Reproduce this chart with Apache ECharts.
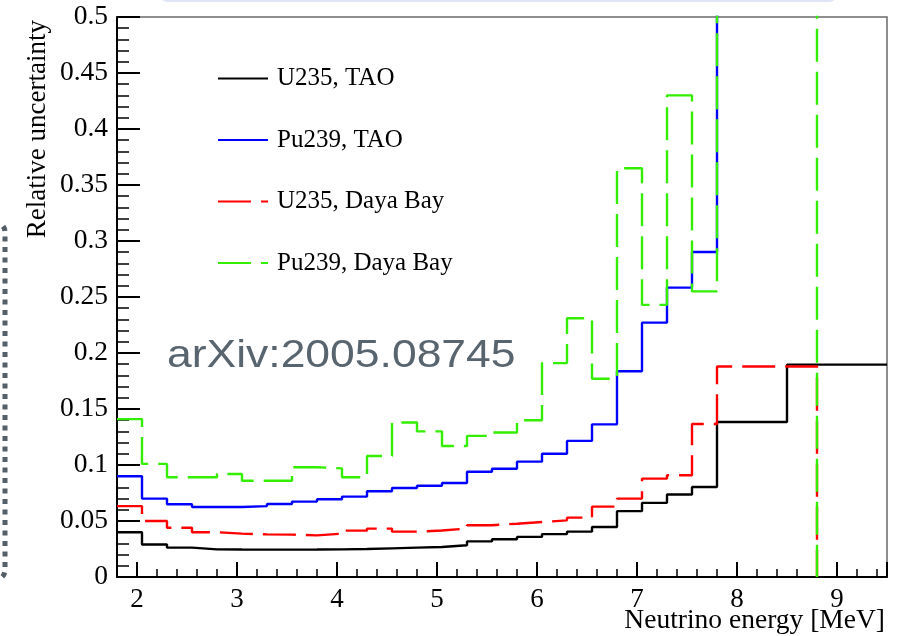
<!DOCTYPE html>
<html>
<head>
<meta charset="utf-8">
<script src="https://cdn.jsdelivr.net/npm/echarts/dist/echarts.min.js"></script>
<style>
html,body{margin:0;padding:0;background:#fff;}
#chart{width:911px;height:636px;}
</style>
</head>
<body>
<div id="chart"></div>
<script>
// Bin edges (MeV)
const taoEdges = [1.8, 2.05, 2.3, 2.55, 2.8, 3.05, 3.3, 3.55, 3.8, 4.05, 4.3, 4.55, 4.8, 5.05, 5.3, 5.55, 5.8, 6.05, 6.3, 6.55, 6.8, 7.05, 7.3, 7.55, 7.8, 8.5, 9.5];
const dybEdges = [1.8, 2.05, 2.3, 2.55, 2.8, 3.05, 3.3, 3.55, 3.8, 4.05, 4.3, 4.55, 4.8, 5.05, 5.3, 5.55, 5.8, 6.05, 6.3, 6.55, 6.8, 7.05, 7.3, 7.55, 7.8, 8.8];

// Relative uncertainty per bin
const u235TAO = [0.040, 0.029, 0.0262, 0.0247, 0.0245, 0.0244, 0.0244, 0.0245, 0.0247, 0.025, 0.0256, 0.0262, 0.0268, 0.0283, 0.0318, 0.0337, 0.0358, 0.0383, 0.0405, 0.0446, 0.0588, 0.0662, 0.0736, 0.0804, 0.1384, 0.1896];
const pu239TAO = [0.090, 0.070, 0.065, 0.0625, 0.0625, 0.0633, 0.0652, 0.0673, 0.0694, 0.0718, 0.0765, 0.0795, 0.0815, 0.0839, 0.094, 0.0967, 0.103, 0.110, 0.1215, 0.1363, 0.1837, 0.2271, 0.2584, 0.2902, 0.62, 0.62];
const u235DYB = [0.0633, 0.050, 0.044, 0.040, 0.0387, 0.0381, 0.0378, 0.0372, 0.0387, 0.0414, 0.0432, 0.0405, 0.0415, 0.0432, 0.0462, 0.0476, 0.0491, 0.0506, 0.053, 0.0628, 0.070, 0.0878, 0.0908, 0.1366, 0.188];
const pu239DYB = [0.141, 0.101, 0.089, 0.089, 0.092, 0.086, 0.086, 0.098, 0.097, 0.089, 0.108, 0.138, 0.130, 0.117, 0.126, 0.129, 0.140, 0.191, 0.231, 0.177, 0.365, 0.243, 0.430, 0.255, 0.62];

const seriesNames = ['U235, TAO', 'Pu239, TAO', 'U235, Daya Bay', 'Pu239, Daya Bay'];

function histPoints(edges, vals, dropToZero) {
  const pts = [];
  for (let i = 0; i < vals.length; i++) pts.push([edges[i], vals[i]]);
  const last = edges[vals.length];
  pts.push([last, vals[vals.length - 1]]);
  if (dropToZero) pts.push([last, 0]);
  return pts;
}

const SERIF = '"Liberation Serif", "DejaVu Serif", serif';
const chart = echarts.init(document.getElementById('chart'), null, {renderer: 'canvas'});

function lineSeries(name, data, color, dashed) {
  return {
    name: name,
    type: 'line',
    step: 'end',
    showSymbol: false,
    symbol: 'none',
    clip: true,
    data: data,
    lineStyle: {color: color, width: 2.4, type: dashed ? [33, 10] : 'solid'},
    itemStyle: {color: color},
    emphasis: {disabled: true}
  };
}

const option = {
  animation: false,
  backgroundColor: '#ffffff',
  grid: {left: 117, right: 24, top: 17, bottom: 59, show: true, borderColor: '#6a6a6a', borderWidth: 1.5, backgroundColor: 'transparent'},
  legend: {
    data: seriesNames,
    orient: 'vertical',
    left: 217,
    top: 66,
    padding: 0,
    itemWidth: 50,
    itemHeight: 24,
    itemGap: 36.5,
    selectedMode: false,
    itemStyle: {opacity: 0},
    textStyle: {fontFamily: SERIF, fontSize: 25, color: '#000', lineHeight: 24, padding: [0, 0, 0, 4]}
  },
  xAxis: {
    type: 'value',
    min: 1.8,
    max: 9.5,
    minInterval: 1,
    maxInterval: 1,
    splitNumber: 8,
    name: 'Neutrino energy [MeV]',
    nameLocation: 'end',
    nameGap: -2,
    nameMoveOverlap: false,
    nameTextStyle: {fontFamily: SERIF, fontSize: 27.5, color: '#000', align: 'right', verticalAlign: 'top', padding: [30, 0, 0, 0]},
    axisLine: {show: true, onZero: false, lineStyle: {color: '#000', width: 2}},
    axisTick: {show: true, inside: true, length: 15, lineStyle: {color: '#000', width: 2}},
    minorTick: {show: true, splitNumber: 5, length: 8, lineStyle: {color: '#000', width: 1.5}},
    splitLine: {show: false},
    minorSplitLine: {show: false},
    axisLabel: {
      fontFamily: SERIF, fontSize: 27, color: '#000', margin: 9,
      showMinLabel: false, showMaxLabel: false,
      formatter: function (v) { return Math.abs(v - Math.round(v)) < 1e-6 ? String(Math.round(v)) : ''; }
    }
  },
  yAxis: {
    type: 'value',
    min: 0,
    max: 0.5,
    interval: 0.05,
    name: 'Relative uncertainty',
    nameLocation: 'end',
    nameRotate: 90,
    nameGap: -3,
    nameMoveOverlap: false,
    nameTextStyle: {fontFamily: SERIF, fontSize: 27, color: '#000', align: 'right', verticalAlign: 'bottom', padding: [0, 0, 66, 0]},
    axisLine: {show: true, onZero: false, lineStyle: {color: '#000', width: 2}},
    axisTick: {show: true, inside: true, length: 23, lineStyle: {color: '#000', width: 2}},
    minorTick: {show: true, splitNumber: 5, length: 12, lineStyle: {color: '#000', width: 1.5}},
    splitLine: {show: false},
    minorSplitLine: {show: false},
    axisLabel: {fontFamily: SERIF, fontSize: 27.5, color: '#000', margin: 9}
  },
  graphic: [
    {
      type: 'text',
      x: 167, y: 357,
      scaleX: 1.17,
      silent: true,
      z: 50,
      style: {text: 'arXiv:2005.08745', font: '38px "Liberation Sans", Arial, sans-serif', fill: '#58656f', align: 'left', verticalAlign: 'middle'}
    },
    {
      type: 'rect',
      silent: true,
      shape: {x: -100, y: 222, width: 105, height: 358, r: 10},
      style: {fill: 'transparent', stroke: '#555f68', lineWidth: 5, lineDash: [5, 5.5]}
    },
    {
      type: 'rect',
      silent: true,
      shape: {x: 160, y: -30, width: 677, height: 31, r: 8},
      style: {fill: 'transparent', stroke: '#dfe5f6', lineWidth: 2}
    }
  ],
  series: [
    lineSeries(seriesNames[0], histPoints(taoEdges, u235TAO, false), '#000000', false),
    lineSeries(seriesNames[1], histPoints(taoEdges, pu239TAO, false), '#0000ff', false),
    lineSeries(seriesNames[2], histPoints(dybEdges, u235DYB, true), '#ff0000', true),
    lineSeries(seriesNames[3], histPoints(dybEdges, pu239DYB, true), '#33ee00', true)
  ]
};
chart.setOption(option);
</script>
</body>
</html>
